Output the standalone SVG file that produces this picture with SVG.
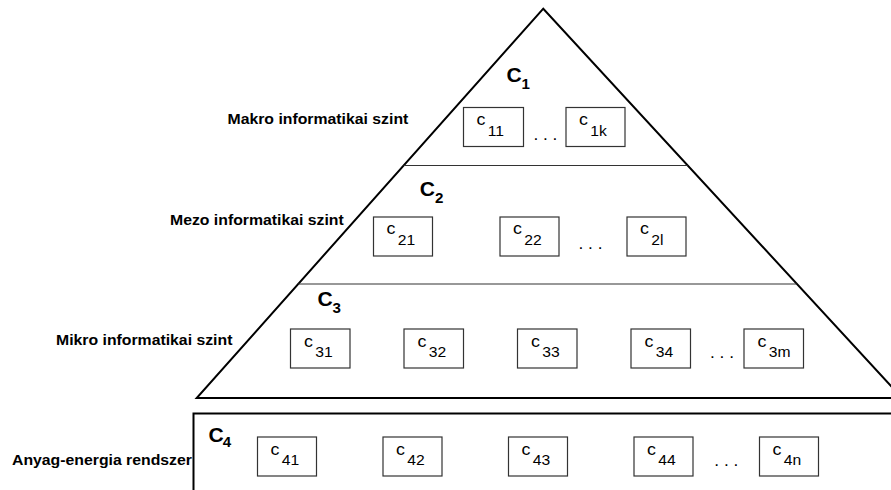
<svg xmlns="http://www.w3.org/2000/svg" width="891" height="490" viewBox="0 0 891 490">
  <style>
    .outline { fill: none; stroke: #000; stroke-width: 2; }
    .divider { fill: none; stroke: #333; stroke-width: 1.2; }
    .box { fill: #fff; stroke: #333; stroke-width: 1.2; }
    text { font-family: "Liberation Sans", Arial, sans-serif; fill: #000; }
    .side { font-size: 14.5px; font-weight: bold; }
    .big { font-size: 19.5px; font-weight: bold; }
    .bigsub { font-size: 14px; font-weight: bold; }
    .c { font-size: 16.5px; }
    .csub { font-size: 14.5px; }
    .dots { font-size: 16px; }
  </style>

  <!-- pyramid outline and level dividers -->
  <g id="pyramid">
    <polygon class="outline" points="543.3,8.7 196.7,398 902,398"/>
    <line class="divider" x1="403.7" y1="165.5" x2="687.6" y2="165.5"/>
    <line class="divider" x1="298.3" y1="284" x2="796.6" y2="284"/>
  </g>

  <!-- base system frame -->
  <g id="base">
    <rect class="outline" x="193.5" y="413.5" width="730" height="100"/>
  </g>

  <!-- level names (text is slightly widened) -->
  <g id="level-names">
    <g transform="translate(227.5 123.5) scale(1.09 1)"><text class="side">Makro informatikai szint</text></g>
    <g transform="translate(170 225) scale(1.09 1)"><text class="side">Mezo informatikai szint</text></g>
    <g transform="translate(56 345) scale(1.09 1)"><text class="side">Mikro informatikai szint</text></g>
    <g transform="translate(12 465) scale(1.09 1)"><text class="side">Anyag-energia rendszer</text></g>
  </g>

  <!-- level titles -->
  <g id="level-titles">
    <g id="C1" transform="translate(506.5 81.7) scale(1.08 1)"><text class="big">C</text><text class="bigsub" x="14" y="7.6">1</text></g>
    <g id="C2" transform="translate(419.8 196) scale(1.08 1)"><text class="big">C</text><text class="bigsub" x="14" y="6.7">2</text></g>
    <g id="C3" transform="translate(317.4 306) scale(1.08 1)"><text class="big">C</text><text class="bigsub" x="14" y="7.3">3</text></g>
    <g id="C4" transform="translate(208.4 441.7) scale(1.08 1)"><text class="big">C</text><text class="bigsub" x="13.3" y="5.6">4</text></g>
  </g>

  <!-- element boxes: rect + label "c" with subscript -->
  <g id="c11"><rect class="box" x="463.5" y="107.5" width="60" height="39"/><g transform="translate(476.5 124.5) scale(1.08 1)"><text class="c">c</text><text class="csub" x="10.5" y="11.4">11</text></g></g>
  <g id="c1k"><rect class="box" x="566" y="107.5" width="59" height="39"/><g transform="translate(579 124.5) scale(1.08 1)"><text class="c">c</text><text class="csub" x="10.5" y="11.4">1k</text></g></g>

  <g id="c21"><rect class="box" x="373.5" y="217" width="59" height="39"/><g transform="translate(386.5 234) scale(1.08 1)"><text class="c">c</text><text class="csub" x="10.5" y="11.4">21</text></g></g>
  <g id="c22"><rect class="box" x="500" y="217" width="59" height="39"/><g transform="translate(513 234) scale(1.08 1)"><text class="c">c</text><text class="csub" x="10.5" y="11.4">22</text></g></g>
  <g id="c2l"><rect class="box" x="627" y="217" width="59" height="39"/><g transform="translate(640 234) scale(1.08 1)"><text class="c">c</text><text class="csub" x="10.5" y="11.4">2l</text></g></g>

  <g id="c31"><rect class="box" x="290.5" y="329" width="59.5" height="39"/><g transform="translate(304 346.5) scale(1.08 1)"><text class="c">c</text><text class="csub" x="10.5" y="10.5">31</text></g></g>
  <g id="c32"><rect class="box" x="404" y="329" width="59.5" height="39"/><g transform="translate(417.5 346.5) scale(1.08 1)"><text class="c">c</text><text class="csub" x="10.5" y="10.5">32</text></g></g>
  <g id="c33"><rect class="box" x="517.5" y="329" width="59.5" height="39"/><g transform="translate(531 346.5) scale(1.08 1)"><text class="c">c</text><text class="csub" x="10.5" y="10.5">33</text></g></g>
  <g id="c34"><rect class="box" x="631" y="329" width="59.5" height="39"/><g transform="translate(644.5 346.5) scale(1.08 1)"><text class="c">c</text><text class="csub" x="10.5" y="10.5">34</text></g></g>
  <g id="c3m"><rect class="box" x="744" y="329" width="59.5" height="39"/><g transform="translate(757.5 346.5) scale(1.08 1)"><text class="c">c</text><text class="csub" x="10.5" y="10.5">3m</text></g></g>

  <g id="c41"><rect class="box" x="257.5" y="437" width="59" height="39"/><g transform="translate(270.5 454.5) scale(1.08 1)"><text class="c">c</text><text class="csub" x="10.5" y="10.5">41</text></g></g>
  <g id="c42"><rect class="box" x="383" y="437" width="59" height="39"/><g transform="translate(396 454.5) scale(1.08 1)"><text class="c">c</text><text class="csub" x="10.5" y="10.5">42</text></g></g>
  <g id="c43"><rect class="box" x="508.5" y="437" width="59" height="39"/><g transform="translate(521.5 454.5) scale(1.08 1)"><text class="c">c</text><text class="csub" x="10.5" y="10.5">43</text></g></g>
  <g id="c44"><rect class="box" x="634" y="437" width="59" height="39"/><g transform="translate(647 454.5) scale(1.08 1)"><text class="c">c</text><text class="csub" x="10.5" y="10.5">44</text></g></g>
  <g id="c4n"><rect class="box" x="759.5" y="437" width="59" height="39"/><g transform="translate(772.5 454.5) scale(1.08 1)"><text class="c">c</text><text class="csub" x="10.5" y="10.5">4n</text></g></g>

  <!-- ellipses between elements -->
  <g id="ellipses">
    <g transform="translate(533.4 139.5) scale(1.08 1)"><text class="dots">. . .</text></g>
    <g transform="translate(578.5 249) scale(1.08 1)"><text class="dots">. . .</text></g>
    <g transform="translate(710 357.5) scale(1.08 1)"><text class="dots">. . .</text></g>
    <g transform="translate(714.3 465.5) scale(1.08 1)"><text class="dots">. . .</text></g>
  </g>
</svg>
